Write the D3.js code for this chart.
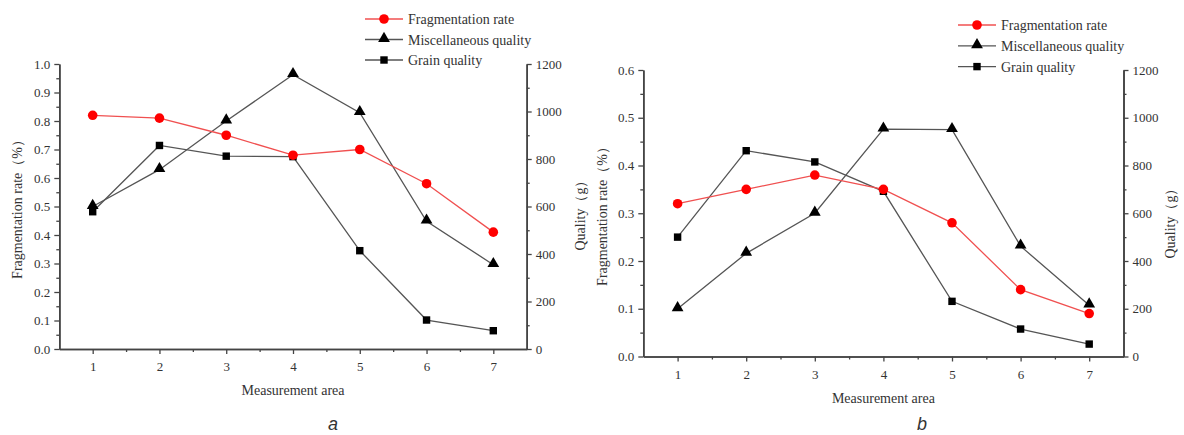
<!DOCTYPE html>
<html>
<head>
<meta charset="utf-8">
<script src="https://cdn.jsdelivr.net/npm/d3@7"></script>
<style>
  body { margin: 0; background: #fff; }
  #plot { width: 1184px; height: 435px; }
  text { font-family: "Liberation Serif", "DejaVu Serif", serif; fill: #333; }
</style>
</head>
<body>
<div id="plot"></div>
<script>
// measurement areas shared by both panels
const areas = [1, 2, 3, 4, 5, 6, 7];

// panel a
const fragA = [0.82, 0.81, 0.75, 0.68, 0.70, 0.58, 0.41];
const miscA = [600, 755, 960, 1155, 995, 538, 355];
const grainA = [578, 857, 812, 810, 414, 122, 77];
const leftTicksA = [0, 0.1, 0.2, 0.3, 0.4, 0.5, 0.6, 0.7, 0.8, 0.9, 1.0];

// panel b
const fragB = [0.32, 0.35, 0.38, 0.35, 0.28, 0.14, 0.09];
const miscB = [200, 432, 600, 952, 950, 462, 215];
const grainB = [500, 862, 815, 692, 231, 115, 52];
const leftTicksB = [0, 0.1, 0.2, 0.3, 0.4, 0.5, 0.6];

const rightTicks = [0, 200, 400, 600, 800, 1000, 1200];
const seriesNames = ['Fragmentation rate', 'Miscellaneous quality', 'Grain quality'];

const W = 1184, H = 435;
const serif = '"Liberation Serif", "DejaVu Serif", serif';
const svg = d3.select('#plot').append('svg').attr('width', W).attr('height', H);

function drawPanel(p) {
  const x = d3.scaleLinear().domain([0.5, 7.5]).range([p.x0, p.x1]);
  const yL = d3.scaleLinear().domain([0, p.leftMax]).range([p.y1, p.y0]);
  const yR = d3.scaleLinear().domain([0, 1200]).range([p.y1, p.y0]);
  const g = svg.append('g');

  const styleAxis = (sel) => {
    sel.attr('font-family', serif).attr('font-size', 13);
    sel.select('.domain').attr('stroke', '#444').attr('stroke-width', 1.6);
    sel.selectAll('.tick line').attr('stroke', '#444').attr('stroke-width', 1.3);
    sel.selectAll('.tick text').style('font-family', serif).style('font-size', '13px').attr('fill', '#444');
  };

  // minor ticks
  g.append('g').attr('transform', `translate(0,${p.y1})`)
    .call(d3.axisBottom(x).tickValues(d3.range(1.5, 7.5, 1)).tickSize(3).tickFormat('').tickSizeOuter(0))
    .call(styleAxis);
  g.append('g').attr('transform', `translate(${p.x0},0)`)
    .call(d3.axisLeft(yL).tickValues(d3.range(0.05, p.leftMax, 0.1)).tickSize(3).tickFormat('').tickSizeOuter(0))
    .call(styleAxis);
  g.append('g').attr('transform', `translate(${p.x1},0)`)
    .call(d3.axisRight(yR).tickValues(d3.range(100, 1200, 200)).tickSize(3).tickFormat('').tickSizeOuter(0))
    .call(styleAxis);

  // major axes
  g.append('g').attr('transform', `translate(0,${p.y1})`)
    .call(d3.axisBottom(x).tickValues(areas).tickSize(5).tickPadding(8).tickFormat(d3.format('d')).tickSizeOuter(0))
    .call(styleAxis);
  g.append('g').attr('transform', `translate(${p.x0},0)`)
    .call(d3.axisLeft(yL).tickValues(p.leftTicks).tickSize(5).tickPadding(4).tickFormat(d3.format('.1f')).tickSizeOuter(0))
    .call(styleAxis);
  g.append('g').attr('transform', `translate(${p.x1},0)`)
    .call(d3.axisRight(yR).tickValues(rightTicks).tickSize(5).tickPadding(4).tickFormat(d3.format('d')).tickSizeOuter(0))
    .call(styleAxis);

  // lines
  const lineL = d3.line().x((d, i) => x(areas[i])).y((d) => yL(d));
  const lineR = d3.line().x((d, i) => x(areas[i])).y((d) => yR(d));
  g.append('path').datum(p.misc).attr('d', lineR).attr('fill', 'none').attr('stroke', '#555').attr('stroke-width', 1.3);
  g.append('path').datum(p.grain).attr('d', lineR).attr('fill', 'none').attr('stroke', '#555').attr('stroke-width', 1.3);
  g.append('path').datum(p.frag).attr('d', lineL).attr('fill', 'none').attr('stroke', '#f05050').attr('stroke-width', 1.3);

  const tri = d3.symbol().type(d3.symbolTriangle).size(60);
  const sq = d3.symbol().type(d3.symbolSquare).size(55);
  g.selectAll('.mis').data(p.misc).join('path')
    .attr('d', tri).attr('transform', (d, i) => `translate(${x(areas[i])},${yR(d) - 1})`).attr('fill', '#000');
  g.selectAll('.grn').data(p.grain).join('path')
    .attr('d', sq).attr('transform', (d, i) => `translate(${x(areas[i])},${yR(d)})`).attr('fill', '#000');
  g.selectAll('.frg').data(p.frag).join('circle')
    .attr('cx', (d, i) => x(areas[i])).attr('cy', (d) => yL(d)).attr('r', 4.8).attr('fill', '#ff0000');

  // axis titles
  g.append('text').attr('x', (p.x0 + p.x1) / 2).attr('y', p.y1 + 46).attr('text-anchor', 'middle')
    .style('font-size', '14px').text('Measurement area');
  g.append('text').attr('transform', `translate(${p.leftTitleX},${p.leftTitleY}) rotate(-90)`).attr('text-anchor', 'middle')
    .style('font-size', '14px').text('Fragmentation rate（%）');
  g.append('text').attr('transform', `translate(${p.rightTitleX},${p.rightTitleY}) rotate(-90)`).attr('text-anchor', 'middle')
    .style('font-size', '14px').text('Quality（g）');

  // legend
  const lg = g.append('g').attr('transform', `translate(${p.legX},${p.legY})`);
  seriesNames.forEach((name, i) => {
    const row = lg.append('g').attr('transform', `translate(0,${i * p.legStep})`);
    row.append('line').attr('x1', 0).attr('x2', 38).attr('y1', 0).attr('y2', 0)
      .attr('stroke', i === 0 ? '#f05050' : '#555').attr('stroke-width', 1.3);
    if (i === 0) row.append('circle').attr('cx', 19).attr('cy', 0).attr('r', 4.8).attr('fill', '#ff0000');
    else row.append('path').attr('d', i === 1 ? tri : sq).attr('transform', `translate(19,${i === 1 ? -1 : 0})`).attr('fill', '#000');
    row.append('text').attr('x', 43).attr('y', 5).style('font-size', '14px').text(name);
  });

  g.append('text').attr('x', p.tagX).attr('y', 430).attr('text-anchor', 'middle')
    .style('font-family', '"Liberation Sans", Arial, sans-serif').style('font-style', 'italic').style('font-size', '18px')
    .attr('fill', '#000').text(p.tag);
}

drawPanel({
  tag: 'a', tagX: 333,
  x0: 59.3, x1: 526.7, y0: 64, y1: 349, leftMax: 1.0, leftTicks: leftTicksA,
  frag: fragA, misc: miscA, grain: grainA,
  leftTitleX: 22, leftTitleY: 206, rightTitleX: 585, rightTitleY: 212,
  legX: 365, legY: 19, legStep: 20.5
});

drawPanel({
  tag: 'b', tagX: 922,
  x0: 643.3, x1: 1123.5, y0: 70, y1: 356.5, leftMax: 0.6, leftTicks: leftTicksB,
  frag: fragB, misc: miscB, grain: grainB,
  leftTitleX: 607, leftTitleY: 213, rightTitleX: 1175, rightTitleY: 220,
  legX: 958, legY: 25, legStep: 20.8
});
</script>
</body>
</html>
